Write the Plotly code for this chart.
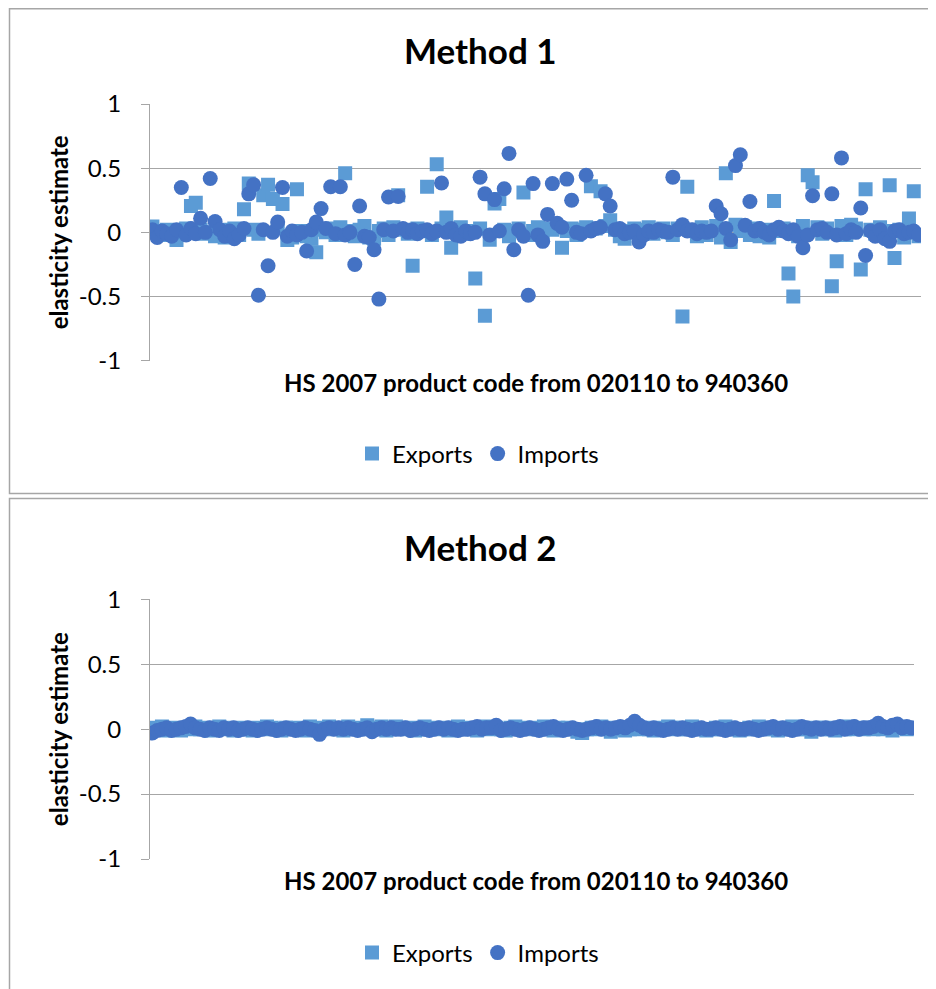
import plotly.graph_objects as go

# ---------------- data ----------------
product_rank = list(range(1, 161))  # HS 2007 products ordered from 020110 to 940360

exports_m1 = [
    0.045, 0.01, -0.02, 0.02, -0.01, -0.06, 0.01, 0.03, 0.205, 0.23,
    0.02, -0.01, 0.00, -0.03, 0.01, -0.04, 0.02, 0.03, -0.02, 0.18,
    0.38, 0.02, -0.01, 0.29, 0.37, 0.26, 0.03, 0.22, -0.06, -0.04,
    0.335, 0.01, -0.03, -0.05, -0.155, 0.02, 0.00, 0.03, -0.02, 0.04,
    0.46, 0.01, -0.03, 0.02, 0.05, -0.04, -0.05, 0.01, 0.03, -0.02,
    0.04, 0.29, 0.02, -0.01, -0.26, 0.03, 0.01, 0.355, -0.02, 0.53,
    0.03, 0.115, -0.12, 0.02, 0.04, -0.01, 0.01, -0.36, 0.03, -0.65,
    -0.057, 0.225, 0.26, 0.02, -0.03, 0.01, 0.03, 0.31, -0.02, 0.01,
    0.04, -0.03, 0.03, 0.02, 0.04, -0.12, 0.01, 0.03, -0.02, 0.02,
    0.04, 0.36, 0.03, 0.32, 0.05, 0.094, 0.02, -0.03, -0.05, 0.01,
    0.03, -0.02, 0.02, 0.04, -0.01, 0.01, 0.03, 0.00, -0.02, 0.03,
    -0.656, 0.355, 0.02, -0.03, 0.04, -0.02, 0.01, 0.05, -0.04, 0.46,
    -0.075, 0.06, 0.01, 0.04, -0.02, 0.03, -0.03, 0.02, -0.04, 0.245,
    0.01, 0.03, -0.32, -0.5, -0.03, 0.05, 0.445, 0.39, 0.04, -0.01,
    0.03, -0.42, -0.225, 0.05, -0.02, 0.06, 0.03, -0.29, 0.335, 0.02,
    -0.01, 0.04, 0.01, 0.367, -0.2, 0.02, -0.04, 0.107, 0.32, -0.03,
]

imports_m1 = [
    0.02, -0.04, 0.01, -0.01, -0.03, 0.02, 0.35, -0.02, 0.03, -0.01,
    0.11, 0.00, 0.42, 0.085, 0.02, -0.03, 0.01, -0.05, -0.02, 0.03,
    0.30, 0.37, -0.49, 0.02, -0.26, 0.00, 0.08, 0.35, -0.03, 0.01,
    -0.02, 0.00, -0.145, 0.02, 0.08, 0.185, 0.03, 0.355, -0.01, 0.355,
    -0.02, 0.00, -0.25, 0.205, -0.03, -0.04, -0.135, -0.52, 0.02, 0.275,
    0.01, 0.28, 0.03, 0.00, 0.02, -0.01, 0.01, 0.02, -0.01, 0.01,
    0.385, 0.00, 0.03, -0.02, -0.03, 0.01, -0.01, 0.00, 0.43, 0.30,
    -0.02, 0.255, 0.01, 0.34, 0.615, -0.135, 0.02, -0.03, -0.49, 0.38,
    -0.02, -0.07, 0.14, 0.38, 0.07, 0.04, 0.415, 0.25, 0.00, -0.01,
    0.445, 0.01, 0.03, 0.04, 0.30, 0.205, 0.02, 0.03, -0.01, 0.00,
    0.01, -0.075, -0.02, 0.01, 0.00, 0.02, 0.01, 0.00, 0.43, 0.02,
    0.06, 0.01, 0.02, -0.01, 0.01, 0.00, 0.01, 0.205, 0.145, 0.03,
    -0.06, 0.52, 0.605, 0.055, 0.24, 0.01, 0.03, 0.00, -0.02, 0.02,
    0.04, 0.01, -0.01, 0.02, -0.03, -0.12, -0.02, 0.285, 0.02, 0.03,
    0.00, 0.30, -0.02, 0.58, -0.01, 0.02, 0.00, 0.19, -0.18, 0.01,
    -0.03, 0.02, -0.05, -0.07, 0.01, 0.02, -0.01, 0.00, 0.01, -0.02,
]

exports_m2 = [
    0.01, 0.00, 0.02, -0.01, 0.01, 0.00, -0.01, 0.01, 0.00, 0.02,
    0.00, 0.01, -0.01, 0.00, 0.02, 0.00, 0.01, -0.01, 0.00, 0.01,
    0.00, -0.01, 0.01, 0.00, 0.02, 0.01, 0.00, -0.01, 0.01, 0.00,
    0.01, 0.00, -0.01, 0.02, 0.00, 0.01, 0.00, 0.02, 0.01, 0.00,
    -0.01, 0.02, 0.00, 0.01, 0.00, 0.03, 0.01, 0.00, 0.02, -0.01,
    0.00, 0.02, 0.01, 0.00, 0.01, -0.01, 0.00, 0.02, 0.00, 0.01,
    0.00, 0.01, -0.01, 0.00, 0.02, 0.00, 0.01, 0.00, -0.01, 0.01,
    0.02, 0.00, 0.01, 0.00, -0.01, 0.01, 0.02, 0.00, 0.01, 0.00,
    0.01, 0.00, 0.02, 0.00, -0.01, 0.01, 0.00, 0.01, 0.00, -0.02,
    -0.03, 0.00, 0.01, 0.00, 0.02, 0.01, -0.02, 0.00, 0.01, -0.01,
    0.00, 0.02, 0.00, 0.01, 0.00, -0.01, 0.01, 0.00, 0.02, 0.01,
    0.00, 0.01, 0.00, 0.02, 0.01, 0.00, -0.01, 0.00, 0.01, 0.00,
    0.02, 0.01, 0.00, -0.01, 0.00, 0.01, 0.00, 0.02, 0.00, 0.01,
    0.00, -0.01, 0.01, 0.00, 0.02, 0.00, 0.01, 0.00, -0.02, 0.01,
    0.00, 0.01, 0.00, -0.01, 0.01, 0.00, 0.02, 0.00, 0.01, 0.00,
    0.01, 0.00, 0.02, 0.00, 0.01, -0.01, 0.02, 0.01, 0.00, 0.01,
]

imports_m2 = [
    -0.03, -0.01, 0.00, 0.01, -0.01, 0.00, 0.01, 0.02, 0.04, 0.01,
    0.00, -0.01, 0.01, 0.00, -0.01, 0.01, 0.00, 0.01, -0.01, 0.00,
    0.01, 0.00, -0.01, 0.00, 0.01, 0.00, -0.01, 0.00, 0.01, 0.00,
    -0.01, 0.00, 0.01, 0.00, -0.01, -0.04, 0.00, 0.01, 0.00, 0.01,
    0.00, 0.01, 0.00, -0.01, 0.00, 0.01, -0.02, 0.00, 0.01, 0.00,
    0.01, 0.00, 0.00, 0.01, -0.01, 0.00, 0.01, 0.00, -0.01, 0.00,
    0.01, 0.00, 0.01, 0.00, -0.01, 0.00, 0.00, 0.01, 0.02, 0.00,
    0.01, 0.01, 0.03, -0.01, 0.00, 0.01, 0.00, -0.01, 0.00, 0.01,
    0.00, -0.01, 0.00, 0.01, 0.02, 0.00, -0.01, 0.00, 0.01, 0.00,
    -0.01, 0.00, 0.01, 0.02, 0.00, 0.01, 0.00, 0.01, 0.02, 0.01,
    0.03, 0.06, 0.03, 0.01, 0.00, 0.01, 0.00, -0.01, 0.00, 0.01,
    0.00, 0.01, 0.00, -0.01, 0.00, 0.01, 0.00, 0.00, 0.01, 0.00,
    -0.01, 0.00, 0.01, 0.00, 0.00, 0.01, 0.00, -0.01, 0.00, 0.01,
    0.02, 0.00, 0.01, 0.00, -0.01, 0.00, 0.02, 0.01, 0.00, 0.01,
    0.00, 0.01, 0.00, 0.01, 0.02, 0.00, 0.01, 0.02, 0.00, 0.01,
    0.01, 0.02, 0.045, 0.02, 0.01, 0.03, 0.04, 0.01, 0.02, 0.01,
]

y_tick_values = [-1, -0.5, 0, 0.5, 1]
y_tick_labels = ["-1", "-0.5", "0", "0.5", "1"]

chart_titles = ["Method 1", "Method 2"]
x_title = "HS 2007 product code from 020110 to 940360"
y_title = "elasticity estimate"

# ---------------- style ----------------
W, H = 936, 989
OFF = 8  # page body margin offset
FONT = "Lato, Carlito, Calibri, 'Liberation Sans', sans-serif"
EXP_COLOR = "#5B9BD5"
IMP_COLOR = "#4472C4"
GRID = "#A6A6A6"
BORDER = "#A6A6A6"


def px_x(v):
    return (v - OFF) / W


def px_y(v):
    return 1 - (v - OFF) / H


fig = go.Figure()

panels = [
    dict(exp=exports_m1, imp=imports_m1, xa="x", ya="y", leg="legend"),
    dict(exp=exports_m2, imp=imports_m2, xa="x2", ya="y2", leg="legend2"),
]
for p in panels:
    fig.add_trace(go.Scatter(
        x=product_rank, y=p["exp"], mode="markers", name="Exports",
        xaxis=p["xa"], yaxis=p["ya"], legend=p["leg"],
        marker=dict(symbol="square", size=14, color=EXP_COLOR, line=dict(width=0)),
    ))
    fig.add_trace(go.Scatter(
        x=product_rank, y=p["imp"], mode="markers", name="Imports",
        xaxis=p["xa"], yaxis=p["ya"], legend=p["leg"],
        marker=dict(symbol="circle", size=15, color=IMP_COLOR, line=dict(width=0)),
    ))

yaxis_common = dict(
    range=[-1, 1], tickvals=y_tick_values, ticktext=y_tick_labels,
    showgrid=True, gridcolor=GRID, gridwidth=1,
    showline=True, linecolor=GRID, linewidth=1,
    ticks="outside", ticklen=8, tickcolor=GRID, tickwidth=1,
    zeroline=False, ticklabelstandoff=15, automargin=False,
    tickfont=dict(family=FONT, size=24, color="#000000"),
    title=dict(text="<b>%s</b>" % y_title, standoff=3,
               font=dict(family=FONT, size=24, color="#000000")),
)
xaxis_common = dict(
    range=[0.5, 160.5], showgrid=False, showticklabels=False,
    zeroline=False, showline=False, ticks="", automargin=False,
)

fig.update_layout(
    width=W, height=H,
    margin=dict(l=0, r=0, t=0, b=0, pad=0, autoexpand=False),
    paper_bgcolor="white", plot_bgcolor="white",
    showlegend=True,
    xaxis=dict(domain=[px_x(150), px_x(921)], anchor="y", **xaxis_common),
    yaxis=dict(domain=[px_y(360.7), px_y(104)], anchor="x", **yaxis_common),
    xaxis2=dict(domain=[px_x(150), px_x(914)], anchor="y2", **xaxis_common),
    yaxis2=dict(domain=[px_y(859), px_y(599.3)], anchor="x2", **yaxis_common),
    legend=dict(orientation="h", x=px_x(478), xanchor="center", y=px_y(454), yanchor="middle",
                font=dict(family=FONT, size=24, color="#000000"), bgcolor="rgba(0,0,0,0)"),
    legend2=dict(orientation="h", x=px_x(478), xanchor="center", y=px_y(953), yanchor="middle",
                 font=dict(family=FONT, size=24, color="#000000"), bgcolor="rgba(0,0,0,0)"),
)

# chart boxes
fig.add_shape(type="rect", xref="paper", yref="paper",
              x0=px_x(9.5), x1=1.05, y0=px_y(493.5), y1=1 - 0.75 / H,
              line=dict(color=BORDER, width=1.5), fillcolor="rgba(0,0,0,0)", layer="below")
fig.add_shape(type="rect", xref="paper", yref="paper",
              x0=px_x(9.5), x1=1.05, y0=-0.05, y1=px_y(498.5),
              line=dict(color=BORDER, width=1.5), fillcolor="rgba(0,0,0,0)", layer="below")

# titles
title_y = [50, 547]
xtitle_y = [383, 880]
for k in range(2):
    fig.add_annotation(text="<b>%s</b>" % chart_titles[k], xref="paper", yref="paper",
                       x=px_x(480), y=px_y(title_y[k]), xanchor="center", yanchor="middle",
                       showarrow=False, font=dict(family=FONT, size=35, color="#000000"))
    fig.add_annotation(text="<b>%s</b>" % x_title, xref="paper", yref="paper",
                       x=px_x(536), y=px_y(xtitle_y[k]), xanchor="center", yanchor="middle",
                       showarrow=False, font=dict(family=FONT, size=24, color="#000000"))

fig.write_html("out.html")
